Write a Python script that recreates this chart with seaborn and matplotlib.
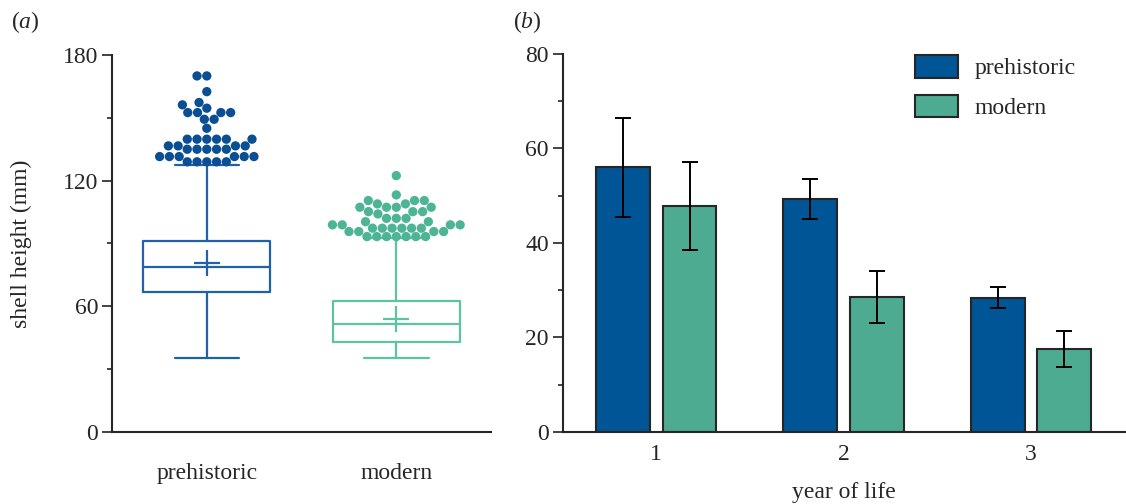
import numpy as np
import pandas as pd
import matplotlib
matplotlib.use("Agg")
import matplotlib.pyplot as plt
import seaborn as sns

# ---- panel (a): shell height box plots ----
groups = ["prehistoric", "modern"]
box_q1 = [67.0, 42.8]
box_median = [78.6, 51.4]
box_q3 = [91.4, 62.4]
whisker_low = [35.5, 35.2]
whisker_high = [127.5, 92.5]
box_mean = [80.9, 53.8]

outliers_prehistoric = [170.0, 170.0, 162.5, 157.3, 156.2, 154.6,
                        152.5, 152.5, 152.5, 152.5, 149.3, 149.3, 145.0,
                        139.8, 139.8, 139.8, 139.8, 139.8, 139.8,
                        136.6, 136.6, 136.6, 136.6,
                        135.0, 135.0, 135.0, 135.0, 135.0,
                        131.5, 131.5, 131.5, 131.5, 131.5, 131.5,
                        129.0, 129.0, 129.0, 129.0, 129.0]
outliers_modern = [122.4, 113.2, 110.5, 110.5, 110.5, 108.9, 108.9,
                   107.3, 107.3, 107.3, 107.3, 105.2, 105.2, 105.2, 104.1,
                   102.0, 102.0, 102.0, 100.4, 100.4,
                   98.9, 98.9, 98.9, 98.9,
                   97.3, 97.3, 97.3, 97.3, 97.3, 97.3,
                   95.7, 95.7, 95.7, 95.7,
                   93.3, 93.3, 93.3, 93.3, 93.3, 93.3, 93.3]

# ---- panel (b): growth per year of life ----
years = ["1", "2", "3"]
growth_prehistoric = [56.0, 49.3, 28.4]
growth_modern = [47.9, 28.6, 17.6]
err_prehistoric = [10.4, 4.25, 2.25]
err_modern = [9.3, 5.45, 3.75]

dot_colors = {"prehistoric": "#0a4f93", "modern": "#4db596"}
line_colors = {"prehistoric": "#1f62ab", "modern": "#5ec3a3"}
bar_colors = {"prehistoric": "#005596", "modern": "#4dab92"}

sns.set_style("ticks")
plt.rcParams["font.family"] = ["Liberation Serif", "DejaVu Serif"]
plt.rcParams["mathtext.fontset"] = "custom"
plt.rcParams["mathtext.rm"] = "Liberation Serif"
plt.rcParams["mathtext.it"] = "Liberation Serif:italic"
FS = 17

fig = plt.figure(figsize=(11.26, 5.04), dpi=100)
ax1 = fig.add_axes([0.0995, 0.1429, 0.3366, 0.748])
ax2 = fig.add_axes([0.4997, 0.1429, 0.499, 0.750])

# outliers as a swarm
out_df = pd.DataFrame({
    "group": ["prehistoric"] * len(outliers_prehistoric) + ["modern"] * len(outliers_modern),
    "height": outliers_prehistoric + outliers_modern,
})
sns.swarmplot(data=out_df, x="group", y="height", hue="group", order=groups,
              palette=dot_colors, size=6.7, legend=False, ax=ax1, zorder=3)

stats = []
for i, g in enumerate(groups):
    stats.append(dict(label=g, q1=box_q1[i], med=box_median[i], q3=box_q3[i],
                      whislo=whisker_low[i], whishi=whisker_high[i],
                      mean=box_mean[i], fliers=[]))
art = ax1.bxp(stats, positions=[0, 1], widths=0.67, capwidths=0.34,
              showmeans=True, meanline=False, showfliers=False,
              manage_ticks=False, zorder=2)
for i, g in enumerate(groups):
    c = line_colors[g]
    art["boxes"][i].set(color=c, linewidth=1.6)
    art["medians"][i].set(color=c, linewidth=1.6)
    for k in (2 * i, 2 * i + 1):
        art["whiskers"][k].set(color=c, linewidth=1.6)
        art["caps"][k].set(color=c, linewidth=1.6)
    art["means"][i].set(marker="+", markersize=19, markeredgewidth=1.6,
                        markeredgecolor=c, color=c)

ax1.set_xlim(-0.5, 1.5)
ax1.set_ylim(0, 180)
ax1.set_yticks([0, 60, 120, 180])
ax1.set_yticks([30, 90, 150], minor=True)
ax1.set_xticks([0, 1])
ax1.set_xticklabels(groups)
ax1.set_xlabel("")
ax1.set_ylabel("shell height (mm)", fontsize=FS, labelpad=22)

# bars with precomputed values
bar_df = pd.DataFrame({
    "year": years * 2,
    "group": ["prehistoric"] * 3 + ["modern"] * 3,
    "growth": growth_prehistoric + growth_modern,
})
sns.barplot(data=bar_df, x="year", y="growth", hue="group", hue_order=groups,
            palette=bar_colors, saturation=1, errorbar=None, width=0.71, gap=0.19,
            edgecolor="#262626", linewidth=1.5, ax=ax2, zorder=2)
for container, errs in zip(ax2.containers, [err_prehistoric, err_modern]):
    for bar, e in zip(container, errs):
        ax2.errorbar(bar.get_x() + bar.get_width() / 2, bar.get_height(), yerr=e,
                     color="black", capsize=5.5, elinewidth=1.4, capthick=1.4,
                     zorder=3)

ax2.set_xlim(-0.5, 2.5)
ax2.set_ylim(0, 80)
ax2.set_yticks([0, 20, 40, 60, 80])
ax2.set_yticks([10, 30, 50, 70], minor=True)
ax2.set_ylabel("")
ax2.set_xlabel("year of life", fontsize=FS, labelpad=12)

handles, labels = ax2.get_legend_handles_labels()
ax2.legend(handles, labels, loc="upper left", bbox_to_anchor=(0.627, 0.997),
           frameon=False, fontsize=FS, handlelength=1.82, handleheight=1.1,
           labelspacing=0.64, handletextpad=0.72, borderpad=0, borderaxespad=0)

for ax in (ax1, ax2):
    sns.despine(ax=ax)
    ax.spines["left"].set_linewidth(1.5)
    ax.spines["bottom"].set_linewidth(1.5)
    ax.tick_params(axis="y", which="major", length=7, width=1.2,
                   labelsize=FS, pad=3, color="#222222")
    ax.tick_params(axis="y", which="minor", length=3.5, width=1.2, color="#222222")
    ax.tick_params(axis="x", length=0, labelsize=FS)
ax1.tick_params(axis="x", pad=22)
ax2.tick_params(axis="x", pad=9)

fig.text(11 / 1126, 1 - 22 / 504, r"($\it{a}$)", fontsize=FS, va="center", ha="left")
fig.text(513 / 1126, 1 - 22 / 504, r"($\it{b}$)", fontsize=FS, va="center", ha="left")

fig.savefig("out.png", dpi=100)
